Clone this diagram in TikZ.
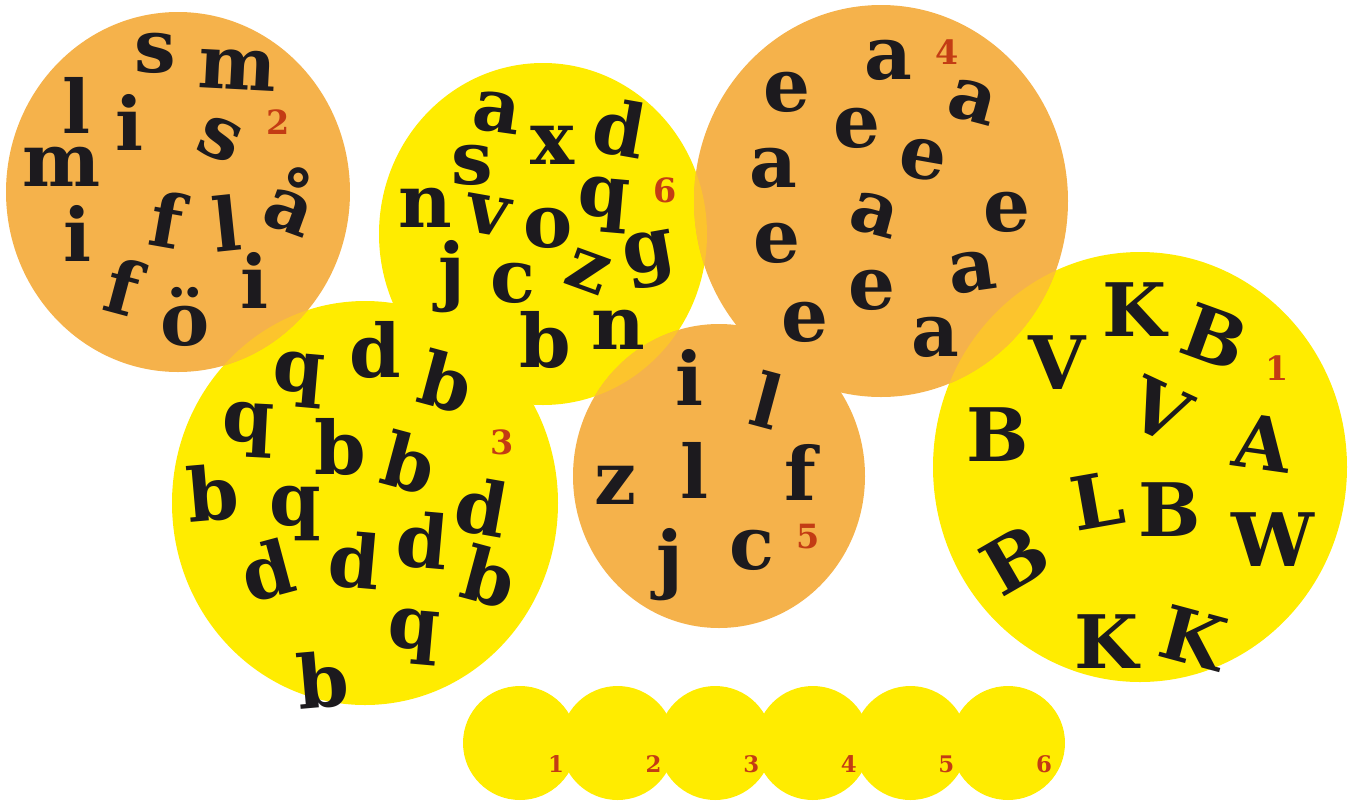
\documentclass[tikz,border=0pt]{standalone}
\usepackage{fontspec}
\setmainfont{DejaVu Serif}
\usepackage{xcolor}
\definecolor{discorange}{RGB}{245,178,75}
\definecolor{discyellow}{RGB}{255,236,0}
\definecolor{discblend}{RGB}{252,196,45}
\definecolor{inkblack}{RGB}{28,26,30}
\definecolor{tagred}{RGB}{195,60,20}

\begin{document}
\begin{tikzpicture}[x=0.02cm,y=-0.02cm,
    ltr/.style={font=\fontsize{42}{42}\selectfont\bfseries,text=inkblack,inner sep=0pt},
    tag/.style={font=\fontsize{19}{19}\selectfont\bfseries,text=tagred,inner sep=0pt},
    keytag/.style={font=\fontsize{13}{13}\selectfont\bfseries,text=tagred,inner sep=0pt}
  ]
  \useasboundingbox (0,0) rectangle (1357,802);

  % yellow discs
  \fill[discyellow] (543,234) ellipse [x radius=164,y radius=171];
  \fill[discyellow] (365,503) ellipse [x radius=193,y radius=202];
  \fill[discyellow] (1140,467) ellipse [x radius=207,y radius=215];
  % orange discs
  \fill[discorange] (178,192) ellipse [x radius=172,y radius=180];
  \fill[discorange] (881,201) ellipse [x radius=187,y radius=196];
  \fill[discorange] (719,476) ellipse [x radius=146,y radius=152];

  % where orange lies over yellow
  \begin{scope}
    \clip (178,192) ellipse [x radius=172,y radius=180];
    \fill[discblend] (365,503) ellipse [x radius=193,y radius=202];
  \end{scope}
  \begin{scope}
    \clip (543,234) ellipse [x radius=164,y radius=171];
    \fill[discblend] (881,201) ellipse [x radius=187,y radius=196];
    \fill[discblend] (719,476) ellipse [x radius=146,y radius=152];
  \end{scope}
  \begin{scope}
    \clip (1140,467) ellipse [x radius=207,y radius=215];
    \fill[discblend] (881,201) ellipse [x radius=187,y radius=196];
  \end{scope}

  % disc 2
  \foreach \x/\y/\a/\ch [count=\i] in {155/53/0/s, 238/70/-3/m, 77/105/0/l, 130/122/0/i,
      220/140/-22/s, 62/167/0/m, 293/200/-20/å, 167/220/-10/f, 227/223/6/l,
      78/233/0/i, 123/287/-15/f, 185/317/0/ö, 255/280/0/i}
    \node[ltr,rotate=\a] (two-\i) at (\x,\y) {\ch};
  \node[tag] (tag-2) at (278,122) {2};

  % disc 6
  \foreach \x/\y/\a/\ch [count=\i] in {497/113/-8/a, 552/145/0/x, 620/128/-10/d, 472/165/0/s,
      425/208/0/n, 488/215/-10/v, 548/228/0/o, 603/205/-5/q, 650/260/10/g,
      452/277/0/j, 513/283/0/c, 588/272/-20/z, 545/340/0/b, 618/330/0/n}
    \node[ltr,rotate=\a] (six-\i) at (\x,\y) {\ch};
  \node[tag] (tag-6) at (665,190) {6};

  % disc 4
  \foreach \x/\y/\a/\ch [count=\i] in {888/60/0/a, 787/92/0/e, 973/102/-15/a, 857/128/0/e,
      923/160/-10/e, 773/168/0/a, 1007/212/0/e, 875/215/-15/a, 777/243/0/e,
      973/272/8/a, 872/290/0/e, 805/322/0/e, 935/337/0/a}
    \node[ltr,rotate=\a] (four-\i) at (\x,\y) {\ch};
  \node[tag] (tag-4) at (947,52) {4};

  % disc 3
  \foreach \x/\y/\a/\ch [count=\i] in {375/350/0/d, 298/380/-5/q, 447/382/-15/b, 248/430/-3/q,
      340/447/0/b, 410/463/-15/b, 213/493/5/b, 295/513/0/q, 482/507/-10/d,
      267/570/15/d, 355/560/-5/d, 423/540/-5/d, 490/577/-15/b, 413/637/-5/q, 323/680/5/b}
    \node[ltr,rotate=\a] (three-\i) at (\x,\y) {\ch};
  \node[tag] (tag-3) at (502,442) {3};

  % disc 5
  \foreach \x/\y/\a/\ch [count=\i] in {690/377/0/i, 767/400/-15/l, 615/485/0/z, 695/470/0/l,
      800/472/0/f, 670/565/0/j, 752/550/0/c}
    \node[ltr,rotate=\a] (five-\i) at (\x,\y) {\ch};
  \node[tag] (tag-5) at (808,537) {5};

  % disc 1
  \foreach \x/\y/\a/\ch [count=\i] in {1135/310/0/K, 1215/337/-20/B, 1057/363/0/V, 998/435/0/B,
      1160/410/-25/V, 1263/443/-8/A, 1097/500/10/L, 1170/510/0/B, 1273/540/0/W,
      1015/560/30/B, 1107/642/0/K, 1193/638/-15/K}
    \node[ltr,rotate=\a] (one-\i) at (\x,\y) {\ch};
  \node[tag] (tag-1) at (1277,368) {1};

  % key row
  \foreach \k in {1,...,6}
    \fill[discyellow] ({520+97.6*(\k-1)},743) circle [radius=57];
  \foreach \k in {1,...,6}
    \node[keytag] (key-\k) at ({556+97.6*(\k-1)},764) {\k};
\end{tikzpicture}
\end{document}
